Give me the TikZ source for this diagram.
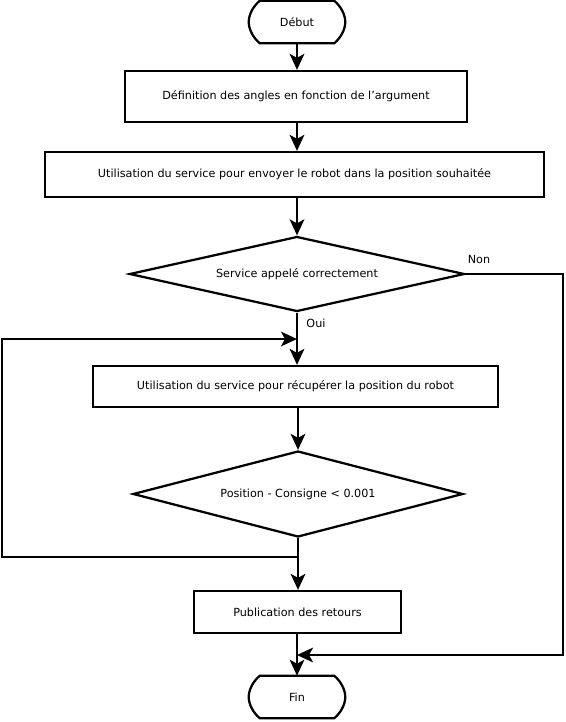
\documentclass[tikz,border=0pt]{standalone}
\usepackage{fontspec}
\setmainfont{DejaVu Sans}
\usetikzlibrary{shapes.geometric,arrows.meta,calc}
\begin{document}
\begin{tikzpicture}[x=0.75pt,y=-0.75pt,
  every node/.style={font=\fontsize{8.4pt}{10pt}\selectfont, text=black},
  stepbox/.style={draw, line width=1.7pt, rectangle, inner sep=0pt, align=center},
  decbox/.style={draw, line width=1.7pt, diamond, inner sep=0pt, align=center},
  termbox/.style={draw=none, rectangle, inner sep=0pt},
  termline/.style={line width=1.7pt},
  arrow/.style={line width=1.7pt, -{Stealth[length=12pt,width=11pt,inset=3pt]}},
  lbl/.style={inner sep=0pt}
]
\useasboundingbox (0,0) rectangle (566,722);

% terminators
\node[termbox, minimum width=72pt, minimum height=31.5pt] (start) at (297,22) {Début};
\node[termbox, minimum width=72pt, minimum height=31.5pt] (fin) at (297,697) {Fin};
\foreach \n in {start,fin}{
  \draw[termline] ($(\n.north west)+(11,0)$) -- ($(\n.north east)+(-11,0)$)
    .. controls ($(\n.north east)+(-4,6)$) and ($(\n.east)+(0,-7)$) .. (\n.east)
    .. controls ($(\n.east)+(0,7)$) and ($(\n.south east)+(-4,-6)$) .. ($(\n.south east)+(-11,0)$)
    -- ($(\n.south west)+(11,0)$)
    .. controls ($(\n.south west)+(4,-6)$) and ($(\n.west)+(0,7)$) .. (\n.west)
    .. controls ($(\n.west)+(0,-7)$) and ($(\n.north west)+(4,6)$) .. ($(\n.north west)+(11,0)$) -- cycle;
}

% boxes
\node[stepbox, minimum width=256.5pt, minimum height=38.25pt] (b1) at (296,96.5) {Définition des angles en fonction de l'argument};
\node[stepbox, minimum width=374.25pt, minimum height=33.75pt] (b2) at (294.5,174.5) {Utilisation du service pour envoyer le robot dans la position souhaitée};
\node[decbox, minimum width=251.25pt, minimum height=56.25pt, aspect=4.47] (d1) at (297,274) {Service appelé correctement};
\node[stepbox, minimum width=303.75pt, minimum height=30.75pt] (b3) at (295.5,386.5) {Utilisation du service pour récupérer la position du robot};
\node[decbox, minimum width=247.5pt, minimum height=64.5pt, aspect=3.84] (d2) at (298,494) {Position - Consigne < 0.001};
\node[stepbox, minimum width=155.25pt, minimum height=31.5pt] (b4) at (297.5,612) {Publication des retours};

% labels
\node[lbl] (non) at (479,259) {Non};
\node[lbl] (oui) at (316,323) {Oui};

% helper coordinates
\coordinate (nonc) at (563,655);
\coordinate (j2) at (297,655);
\coordinate (j1) at (298,557);
\coordinate (lc) at (2,557);
\coordinate (j3) at (297,339);

% connectors
\draw[arrow] (start.south) -- (start.south |- b1.north);
\draw[arrow] (297,0 |- b1.south) -- (297,0 |- b2.north);
\draw[arrow] (297,0 |- b2.south) -- (d1.north);
\draw[arrow] (d1.south) -- (d1.south |- b3.north);
\draw[arrow] (d2.south |- b3.south) -- (d2.north);
\draw[arrow] (d2.south) -- (d2.south |- b4.north);
\draw[arrow] (fin.north |- b4.south) -- (fin.north);
\draw[arrow] (j1) -- (lc) |- (j3);
\draw[arrow] (d1.east) -| (nonc) -- (j2);
\end{tikzpicture}
\end{document}
